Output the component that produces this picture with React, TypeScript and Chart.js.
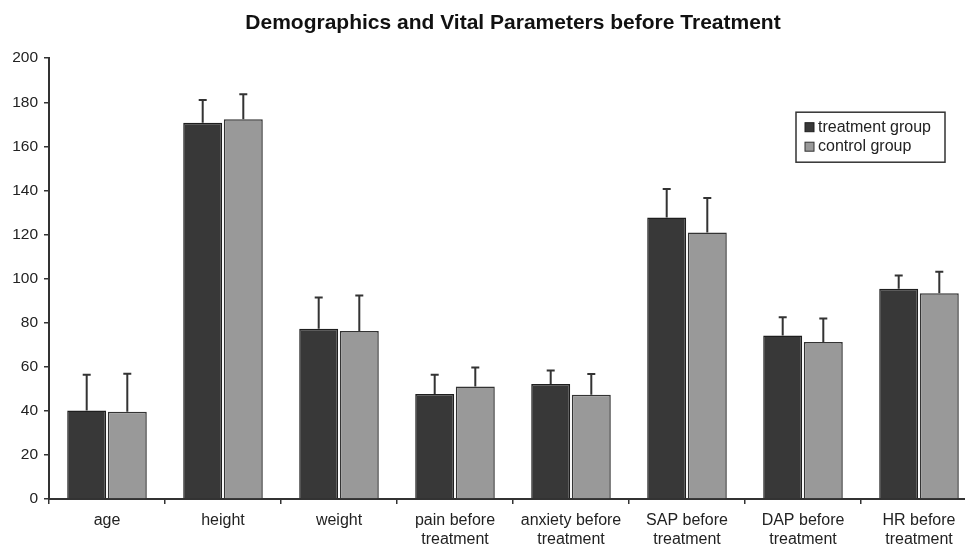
import React, { useEffect, useRef } from 'react';
import { Chart, registerables } from 'chart.js';

Chart.register(...registerables);

const titleText = 'Demographics and Vital Parameters before Treatment';
const categories: (string | string[])[] = [
  'age',
  'height',
  'weight',
  ['pain before', 'treatment'],
  ['anxiety before', 'treatment'],
  ['SAP before', 'treatment'],
  ['DAP before', 'treatment'],
  ['HR before', 'treatment'],
];
const seriesNames = ['treatment group', 'control group'];
const treatmentMean = [40.2, 170.7, 77.2, 47.6, 52.2, 127.7, 74.2, 95.4];
const treatmentSd = [16.2, 10.3, 14.2, 8.8, 6.1, 13.0, 8.3, 6.0];
const controlMean = [39.6, 172.3, 76.2, 51.1, 47.3, 120.9, 71.2, 93.4];
const controlSd = [17.2, 11.4, 16.1, 8.6, 9.4, 15.7, 10.7, 9.7];
const yTicks = [0, 20, 40, 60, 80, 100, 120, 140, 160, 180, 200];

const FONT = "'Liberation Sans', Arial, Helvetica, sans-serif";
const fills = ['#383838', '#999999'];
const borders = ['#1e1e1e', '#333333'];
const sdSets = [treatmentSd, controlSd];

const errorBarsPlugin = {
  id: 'errorBars',
  afterDatasetsDraw(chart: any) {
    const ctx = chart.ctx;
    const yScale = chart.scales.y;
    chart.data.datasets.forEach((ds: any, i: number) => {
      const meta = chart.getDatasetMeta(i);
      const sds = sdSets[i];
      meta.data.forEach((bar: any, j: number) => {
        const top = yScale.getPixelForValue(ds.data[j] + sds[j]);
        ctx.save();
        ctx.strokeStyle = '#333333';
        ctx.lineWidth = 2;
        ctx.beginPath();
        ctx.moveTo(bar.x, bar.y);
        ctx.lineTo(bar.x, top);
        ctx.moveTo(bar.x - 4, top);
        ctx.lineTo(bar.x + 4, top);
        ctx.stroke();
        ctx.restore();
      });
    });
  },
};

const boxLegendPlugin = {
  id: 'boxLegend',
  afterDraw(chart: any) {
    const ctx = chart.ctx;
    const area = chart.chartArea;
    const w = 149;
    const h = 50;
    const x0 = area.right - 32 - w;
    const y0 = area.top + 54;
    ctx.save();
    ctx.fillStyle = '#ffffff';
    ctx.fillRect(x0, y0, w, h);
    ctx.strokeStyle = '#333333';
    ctx.lineWidth = 1.5;
    ctx.strokeRect(x0, y0, w, h);
    ctx.font = `16px ${FONT}`;
    ctx.textBaseline = 'middle';
    chart.data.datasets.forEach((ds: any, i: number) => {
      const cy = y0 + 15 + i * 19.5;
      ctx.fillStyle = fills[i];
      ctx.fillRect(x0 + 9, cy - 4.5, 9, 9);
      ctx.strokeStyle = borders[i];
      ctx.lineWidth = 1;
      ctx.strokeRect(x0 + 9, cy - 4.5, 9, 9);
      ctx.fillStyle = '#222222';
      ctx.fillText(ds.label, x0 + 22, cy);
    });
    ctx.restore();
  },
};

export default function App() {
  const canvasRef = useRef<HTMLCanvasElement | null>(null);

  useEffect(() => {
    if (!canvasRef.current) return;
    const chart = new Chart(canvasRef.current, {
      type: 'bar',
      data: {
        labels: categories,
        datasets: [
          {
            label: seriesNames[0],
            data: treatmentMean,
            backgroundColor: fills[0],
            borderColor: borders[0],
            borderWidth: 1.5,
            categoryPercentage: 0.7,
            barPercentage: 0.96,
          },
          {
            label: seriesNames[1],
            data: controlMean,
            backgroundColor: fills[1],
            borderColor: borders[1],
            borderWidth: 1.5,
            categoryPercentage: 0.7,
            barPercentage: 0.96,
          },
        ],
      },
      options: {
        responsive: false,
        animation: false,
        layout: { padding: { left: 0, right: 8, top: 0, bottom: 0 } },
        plugins: {
          legend: { display: false },
          tooltip: { enabled: false },
          title: {
            display: true,
            text: titleText,
            fullSize: false,
            color: '#111111',
            font: { family: FONT, size: 21, weight: 'bold', lineHeight: 1.2 },
            padding: { top: 11, bottom: 22 },
          },
        },
        scales: {
          x: {
            grid: {
              offset: true,
              drawOnChartArea: false,
              drawTicks: true,
              tickLength: 5,
              color: '#333333',
              lineWidth: 1.5,
            },
            border: { display: true, color: '#333333', width: 2 },
            ticks: {
              color: '#222222',
              padding: 7,
              maxRotation: 0,
              autoSkip: false,
              font: { family: FONT, size: 16, lineHeight: 1.2 },
            },
            afterFit: (s: any) => {
              s.height = 47;
            },
          },
          y: {
            min: 0,
            max: 200,
            afterBuildTicks: (s: any) => {
              s.ticks = yTicks.map((v) => ({ value: v }));
            },
            grid: {
              drawOnChartArea: false,
              drawTicks: true,
              tickLength: 5,
              color: '#333333',
              lineWidth: 1.5,
            },
            border: { display: true, color: '#333333', width: 2 },
            ticks: {
              color: '#222222',
              padding: 6,
              font: { family: FONT, size: 15.5 },
            },
            afterFit: (s: any) => {
              s.width = 49;
            },
          },
        },
      },
      plugins: [errorBarsPlugin, boxLegendPlugin],
    });
    return () => chart.destroy();
  }, []);

  return (
    <div
      style={{
        position: 'fixed',
        left: 0,
        top: 0,
        width: 965,
        height: 546,
        overflow: 'hidden',
        background: '#ffffff',
      }}
    >
      <canvas ref={canvasRef} width={985} height={546} style={{ display: 'block' }} />
    </div>
  );
}
